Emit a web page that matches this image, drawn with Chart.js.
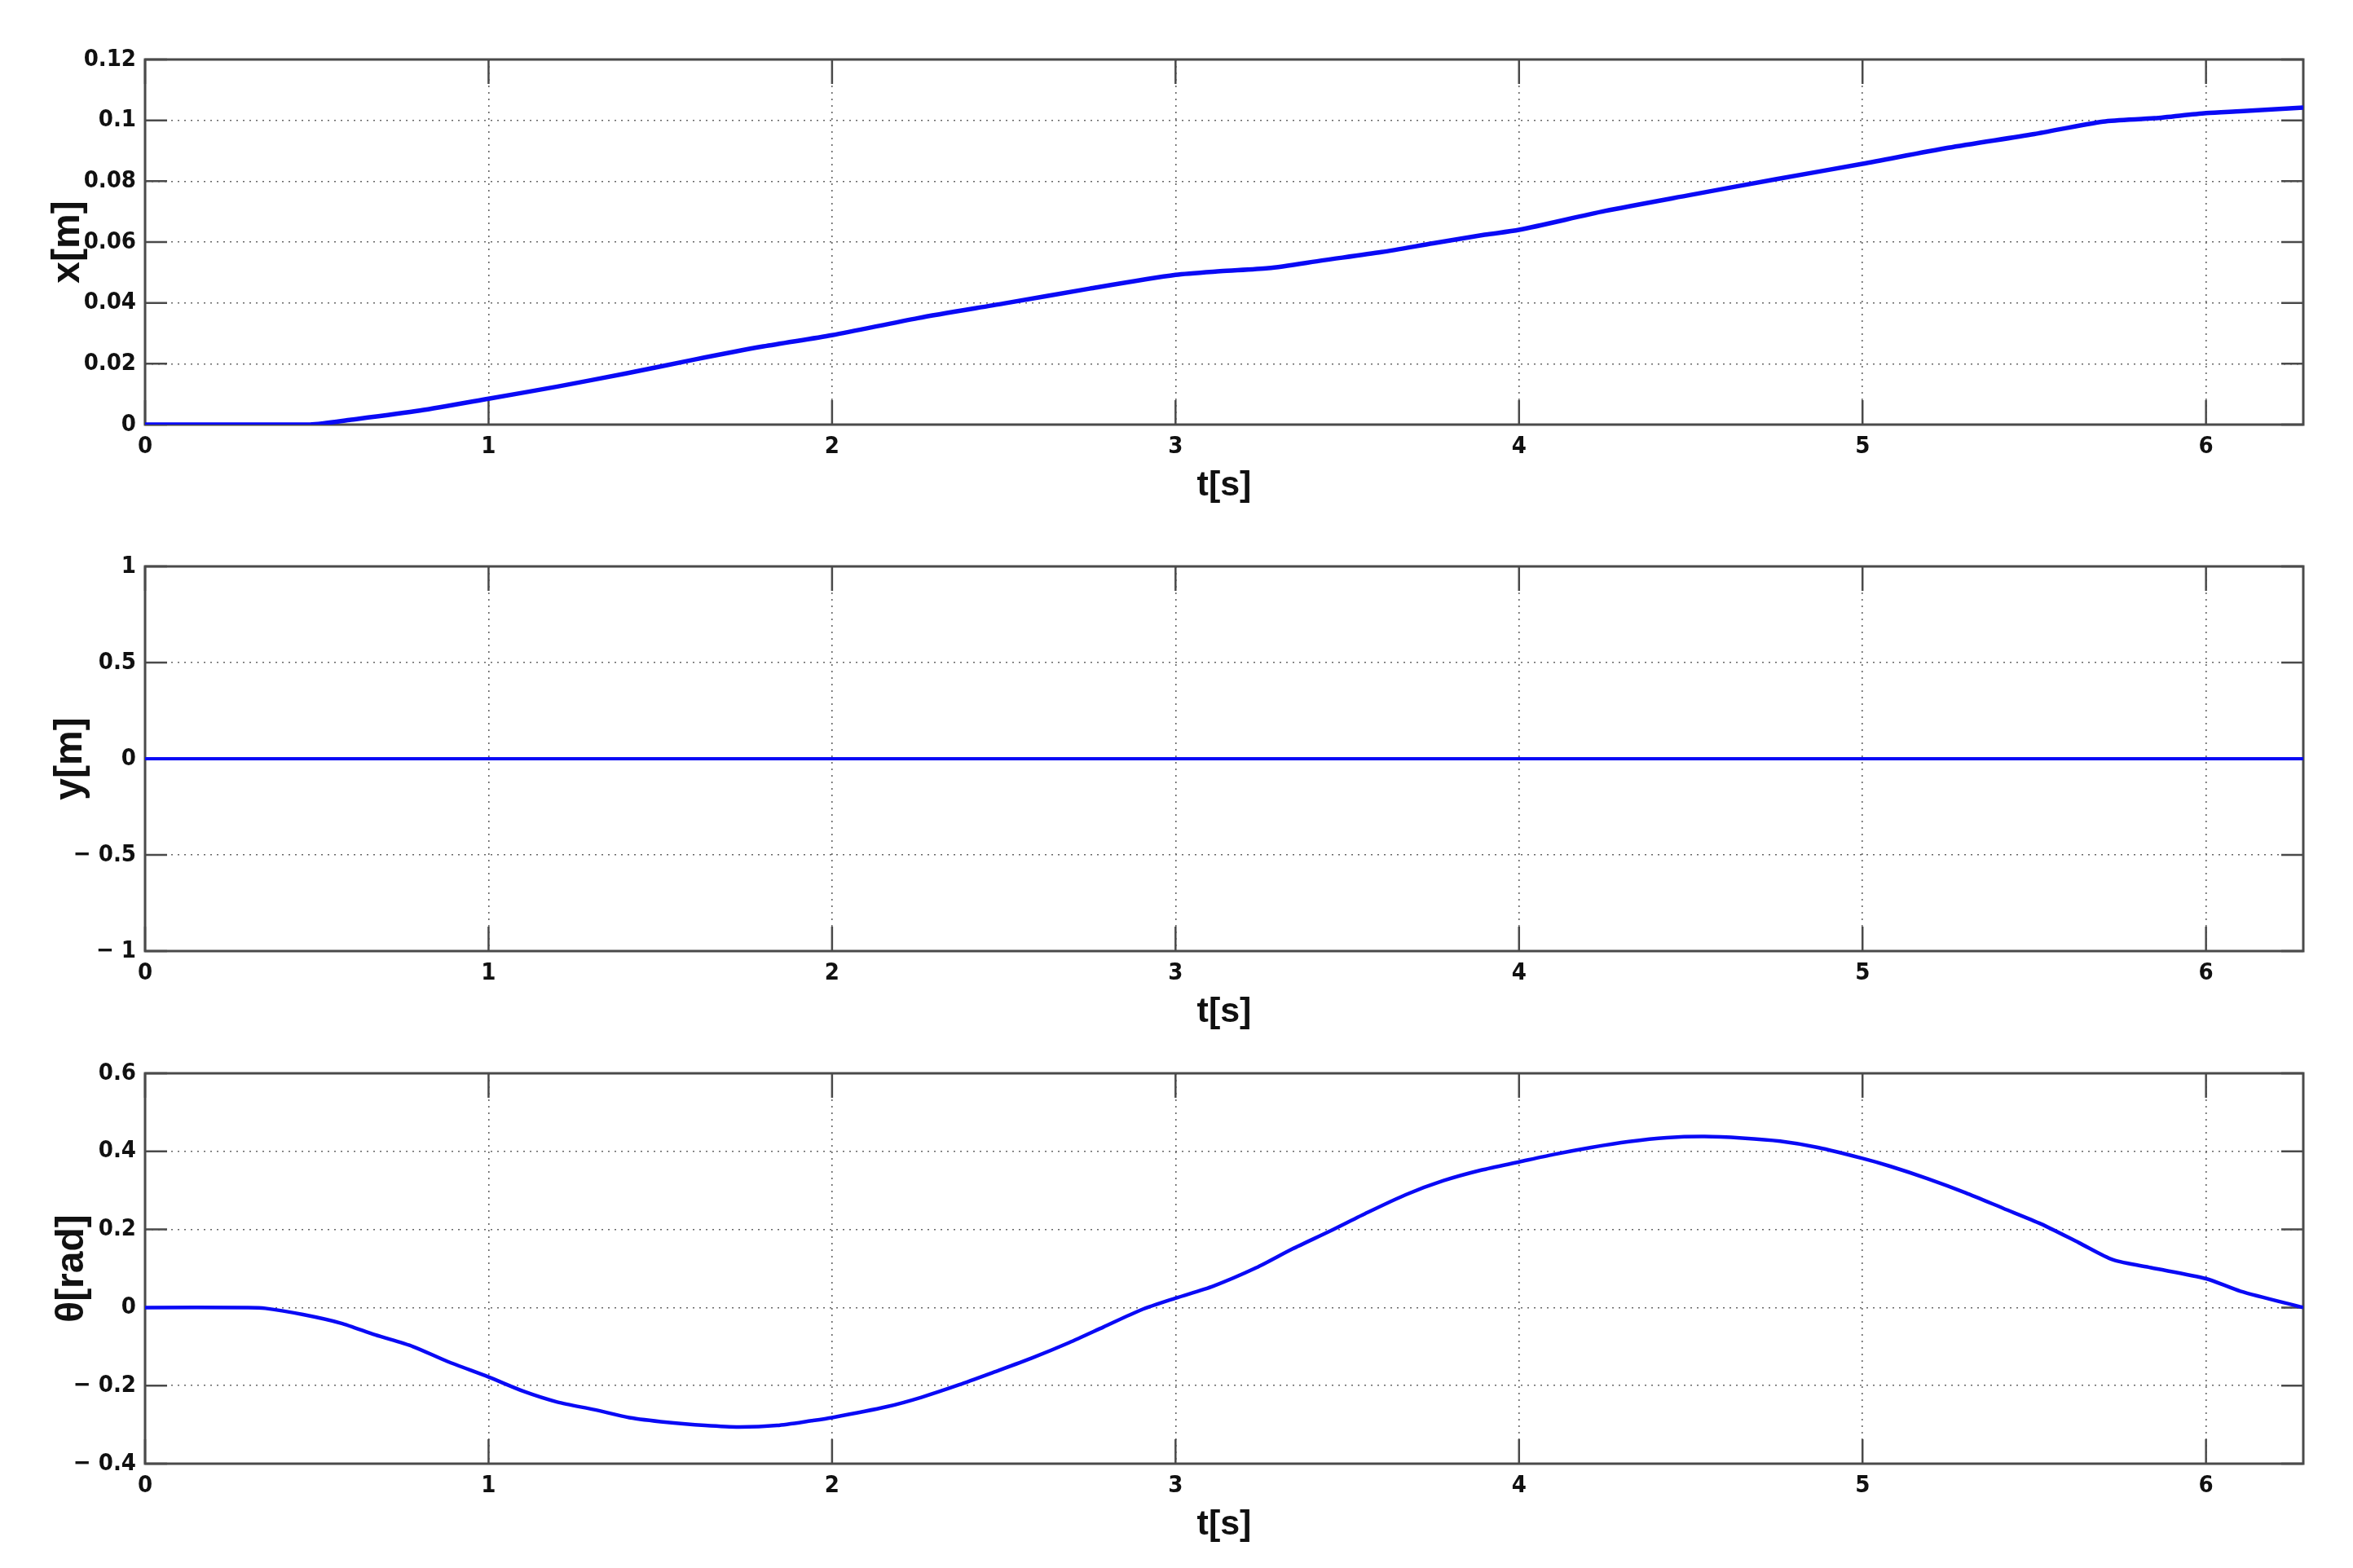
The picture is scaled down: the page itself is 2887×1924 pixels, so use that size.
<!DOCTYPE html>
<html>
<head>
<meta charset="utf-8">
<script src="https://cdn.jsdelivr.net/npm/chart.js@4.4.1/dist/chart.umd.min.js"></script>
<style>
  html, body { margin: 0; padding: 0; background: #fff; }
  body { width: 2887px; height: 1924px; position: relative; overflow: hidden; }
  .panel { position: absolute; left: 0; width: 2887px; }
</style>
</head>
<body>
<div class="panel" style="top:43px;height:584px"><canvas id="chart-x"></canvas></div>
<div class="panel" style="top:665px;height:608px"><canvas id="chart-y"></canvas></div>
<div class="panel" style="top:1287px;height:615px"><canvas id="chart-theta"></canvas></div>
<script>
// time axis ends at 2*pi
const tEnd = 6.2832
const xTicks = [0, 1, 2, 3, 4, 5, 6]

// x(t) [m]
const tX = [0, 0.25, 0.48, 0.6, 0.8, 1.0, 1.2, 1.4, 1.6, 1.8, 2.0, 2.25, 2.5, 2.75, 3.0, 3.13, 3.27, 3.43, 3.6, 3.75, 3.9, 4.0, 4.25, 4.5, 4.75, 5.0, 5.25, 5.5, 5.7, 5.85, 6.0, 6.1, 6.2832]
const xPos = [0, 0, 0, 0.0016, 0.0046, 0.0085, 0.0125, 0.0168, 0.0214, 0.0257, 0.0294, 0.035, 0.0398, 0.0447, 0.0492, 0.0504, 0.0514, 0.054, 0.0567, 0.0596, 0.0624, 0.064, 0.0702, 0.0755, 0.0807, 0.0857, 0.091, 0.0955, 0.0996, 0.1007, 0.1024, 0.103, 0.1042]

// y(t) [m]
const tY = [0, 6.2832]
const yPos = [0, 0]

// theta(t) [rad]
const tTheta = [0, 0.3, 0.35, 0.46, 0.57, 0.67, 0.78, 0.88, 1.0, 1.1, 1.2, 1.31, 1.41, 1.52, 1.63, 1.73, 1.84, 1.94, 2.0, 2.16, 2.26, 2.37, 2.47, 2.58, 2.69, 2.79, 2.9, 3.0, 3.11, 3.235, 3.34, 3.45, 3.56, 3.67, 3.78, 3.89, 4.0, 4.1, 4.21, 4.32, 4.43, 4.54, 4.65, 4.76, 4.87, 5.0, 5.08, 5.19, 5.3, 5.41, 5.52, 5.63, 5.73, 5.84, 6.0, 6.1, 6.2832]
const theta = [0, 0, -0.002, -0.018, -0.04, -0.07, -0.1, -0.138, -0.178, -0.214, -0.242, -0.262, -0.282, -0.294, -0.302, -0.306, -0.302, -0.29, -0.282, -0.254, -0.23, -0.198, -0.166, -0.13, -0.09, -0.05, -0.006, 0.024, 0.055, 0.102, 0.15, 0.196, 0.244, 0.289, 0.325, 0.352, 0.373, 0.392, 0.41, 0.425, 0.435, 0.438, 0.434, 0.426, 0.41, 0.382, 0.362, 0.33, 0.294, 0.254, 0.214, 0.166, 0.122, 0.102, 0.074, 0.042, 0]

const tickFont = {family: "'Liberation Sans Narrow', 'DejaVu Sans Condensed', sans-serif", size: 29, weight: 'bold'}
const xTitleFont = {family: "'Liberation Sans', Arial, sans-serif", size: 43, weight: 'bold', lineHeight: 1.2}
const yTitleFont = {family: "'Liberation Sans', Arial, sans-serif", size: 48, weight: 'bold', lineHeight: 1.2}

// matlab style frame: box round the plot area and inward tick marks on all four sides
const frame = {
    id: 'frame',
    beforeDatasetsDraw(chart) {
        const {ctx, chartArea: a, scales: {x, y}} = chart
        ctx.save()
        ctx.strokeStyle = '#4a4a4a'
        ctx.lineWidth = 2.5
        ctx.beginPath()
        x.ticks.forEach(t => {
            const px = x.getPixelForValue(t.value)
            ctx.moveTo(px, a.bottom); ctx.lineTo(px, a.bottom - 30)
            ctx.moveTo(px, a.top); ctx.lineTo(px, a.top + 30)
        })
        y.ticks.forEach(t => {
            const py = y.getPixelForValue(t.value)
            ctx.moveTo(a.left, py); ctx.lineTo(a.left + 27, py)
            ctx.moveTo(a.right, py); ctx.lineTo(a.right - 27, py)
        })
        ctx.stroke()
        ctx.lineWidth = 3
        ctx.strokeRect(a.left, a.top, a.right - a.left, a.bottom - a.top)
        ctx.restore()
    }
}

function tickLabel(v) {
    const s = String(+Math.abs(v).toFixed(4))
    return v < 0 ? '\u2212 ' + s : s
}

function makeChart(id, times, values, yMin, yMax, yStep, yTitle, titlePad, lineWidth) {
    const points = times.map((t, i) => ({x: t, y: values[i]}))
    const config = {
        type: 'line',
        data: {
            datasets: [{
                data: points,
                borderColor: '#0a0af5',
                borderWidth: lineWidth,
                pointRadius: 0,
                tension: 0.25,
                fill: false
            }]
        },
        options: {
            responsive: true,
            maintainAspectRatio: false,
            animation: false,
            layout: {padding: {top: 30, right: 61, bottom: 5, left: 0}},
            plugins: {legend: {display: false}, tooltip: {enabled: false}},
            scales: {
                x: {
                    type: 'linear',
                    min: 0,
                    max: tEnd,
                    afterFit: s => { s.height = 101 },
                    afterBuildTicks: s => { s.ticks = xTicks.map(v => ({value: v})) },
                    grid: {color: '#666', lineWidth: 1.6, drawTicks: false},
                    border: {display: false, dash: [2, 6]},
                    ticks: {font: tickFont, color: '#111', padding: 10, maxRotation: 0, callback: tickLabel},
                    title: {display: true, text: 't[s]', font: xTitleFont, color: '#111', padding: {top: 0, bottom: 0}}
                },
                y: {
                    min: yMin,
                    max: yMax,
                    afterFit: s => { s.width = 178 },
                    grid: {color: '#666', lineWidth: 1.6, drawTicks: false},
                    border: {display: false, dash: [2, 6]},
                    ticks: {font: tickFont, color: '#111', padding: 11, stepSize: yStep, callback: tickLabel},
                    title: {display: true, text: yTitle, font: yTitleFont, color: '#111', padding: {top: titlePad, bottom: 0}}
                }
            }
        },
        plugins: [frame]
    }
    new Chart(document.getElementById(id), config)
}

makeChart('chart-x', tX, xPos, 0, 0.12, 0.02, 'x[m]', 55, 5.5)
makeChart('chart-y', tY, yPos, -1, 1, 0.5, 'y[m]', 58, 4)
makeChart('chart-theta', tTheta, theta, -0.4, 0.6, 0.2, '\u03b8[rad]', 60, 4.5)
</script>
</body>
</html>
